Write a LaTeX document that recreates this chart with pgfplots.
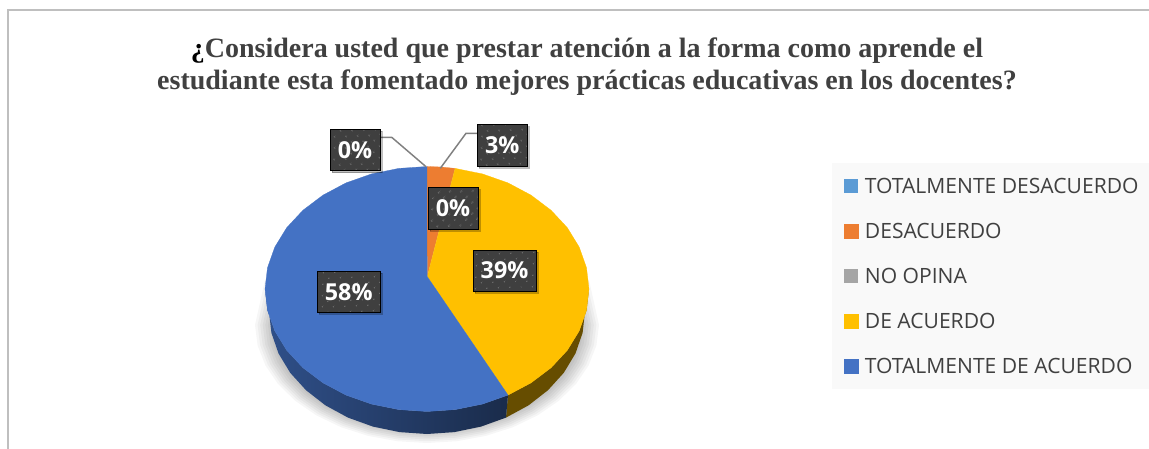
\documentclass[border=0pt]{standalone}
\usepackage{fontspec}
\setmainfont{Open Sans}
\newfontfamily\titlefont{Liberation Serif}
\usepackage{pgfplots}
\pgfplotsset{compat=1.18}
\usepackage{pgfplotstable}
\usetikzlibrary{patterns.meta,shadows}
\definecolor{tbl}{HTML}{5B9BD5}
\definecolor{ora}{HTML}{ED7D31}
\definecolor{gra}{HTML}{A5A5A5}
\definecolor{yel}{HTML}{FFC000}
\definecolor{blu}{HTML}{4472C4}
\definecolor{txt}{HTML}{404040}
\definecolor{box}{HTML}{3F3F3F}
\pgfplotstableread{
x y
265 280
255 325
257.6 345.5
265.4 365.4
278 384
295.2 400.8
316.4 415.4
341 427.2
368.2 435.9
397.1 441.2
427 443
456.9 441.2
485.8 435.9
513 427.2
537.6 415.4
558.8 400.8
576 384
588.6 365.4
596.4 345.5
599 325
589 280
}\shadowtab
\begin{document}
\begin{tikzpicture}
\begin{axis}[
  scale only axis, width=861.75pt, height=336.75pt,
  xmin=0, xmax=1149, ymin=0, ymax=449, y dir=reverse,
  axis lines=none, clip=true,
  title style={at={(axis cs:587,75)}, anchor=center, align=center, inner sep=0pt,
    font=\titlefont\bfseries\fontsize{21}{24}\selectfont, text=txt},
  title={\textcolor{black}{¿}Considera usted que prestar atención a la forma como aprende el\\estudiante esta fomentado mejores prácticas educativas en los docentes?},
  legend image code/.code={\fill[#1] (0pt,-3.75pt) rectangle (10.5pt,6.75pt);},
  legend style={at={(axis cs:844,177.5)}, anchor=north west, draw=none, fill=none,
    inner sep=0pt, outer sep=0pt, row sep=17.7pt, text=txt,
    font=\fontsize{15.8}{18}\selectfont, cells={anchor=west},
    nodes={inner sep=0pt, outer ysep=0pt, inner xsep=5pt, text height=12pt, text depth=4pt}},
]
% page background, frame, legend panel
\addplot[fill=white, draw=none, forget plot] coordinates {(0,0)(1149,0)(1149,449)(0,449)};
\addplot[color=black!25, line width=1pt, forget plot] coordinates {(8,449)(8,10)(1149,10)};
\addplot[fill=black!2.5, draw=none, forget plot] coordinates {(832,163)(1149,163)(1149,389)(832,389)};
% shadow
\pgfplotsinvokeforeach{1.00,0.985,0.97,0.955,0.94,0.925,0.91}{
  \addplot[fill=black, fill opacity=0.035, draw=none, forget plot] table[x expr={427+(\thisrow{x}-427)*#1}, y expr={325+(\thisrow{y}-325)*#1}] {\shadowtab};
}
% side walls
\addplot[fill=yel!40!black, draw=none, forget plot] coordinates {
 (589,289)(586.5,310.3)(579.2,330.9)(567.3,350.3)(551.1,367.7)(531.1,382.8)(508,395.1)
 (506,417.6)(528.6,405.3)(548,390.2)(563.8,372.8)(575.5,353.4)(582.6,332.8)(585,311.5)};
\addplot[left color=blu!70!black, middle color=blu!40!black, right color=blu!38!black, draw=none, forget plot] coordinates {
 (508,395.1)(482.4,404.1)(455.1,409.6)(427,411.5)(398.9,409.6)(371.6,404.1)(346,395.1)(322.9,382.8)(302.9,367.7)(286.7,350.3)(274.8,330.9)(267.5,310.3)(265,289)
 (269,311.5)(271.4,332.8)(278.5,353.4)(290.2,372.8)(306,390.2)(325.4,405.3)(348,417.6)(373,426.6)(399.6,432.1)(427,434)(454.4,432.1)(481,426.6)(506,417.6)};
% top face: one series per category
\addplot[fill=tbl, draw=none] coordinates {(427.3,276.7)(427,166.5)(427,166.5)};
\addlegendentry{TOTALMENTE DESACUERDO}
\addplot[fill=ora, draw=ora, line width=.2pt] coordinates {(427.3,276.7)(427,166.5)(441.1,167)(455.1,168.4)};
\addlegendentry{DESACUERDO}
\addplot[fill=gra, draw=none] coordinates {(427.3,276.7)(455.1,168.4)(455.1,168.4)};
\addlegendentry{NO OPINA}
\addplot[fill=yel, draw=yel, line width=.2pt] coordinates {(427.3,276.7)(455.1,168.4)(482.4,173.9)(508,182.9)(531.1,195.2)(551.1,210.3)(567.3,227.7)(579.2,247.1)(586.5,267.7)(589,289)(586.5,310.3)(579.2,330.9)(567.3,350.3)(551.1,367.7)(531.1,382.8)(508,395.1)};
\addlegendentry{DE ACUERDO}
\addplot[fill=blu, draw=blu, line width=.2pt] coordinates {(427.3,276.7)(508,395.1)(482.4,404.1)(455.1,409.6)(427,411.5)(398.9,409.6)(371.6,404.1)(346,395.1)(322.9,382.8)(302.9,367.7)(286.7,350.3)(274.8,330.9)(267.5,310.3)(265,289)(267.5,267.7)(274.8,247.1)(286.7,227.7)(302.9,210.3)(322.9,195.2)(346,182.9)(371.6,173.9)(398.9,168.4)(427,166.5)};
\addlegendentry{TOTALMENTE DE ACUERDO}
% leader lines
\addplot[color=black!50, line width=1.1pt, forget plot] coordinates {(380,137.3)(391.7,137.3)(426,166.7)};
\addplot[color=black!50, line width=1.1pt, forget plot] coordinates {(478,133.3)(466,133.3)(440.3,168.3)};
% data labels
\addplot[only marks, mark=none, forget plot, point meta=explicit symbolic,
  nodes near coords, nodes near coords align={center},
  every node near coord/.style={anchor=center, fill=box, text=white, inner sep=0pt,
    font=\bfseries\fontsize{17.5}{20}\selectfont, minimum width=37.5pt, minimum height=31pt,
    drop shadow={shadow xshift=1.5pt, shadow yshift=-1.5pt, opacity=.25, fill=black},
    postaction={pattern={Dots[distance=6.5pt,radius=.6pt,angle=45]}, pattern color=white!30!box}}
] coordinates {
 (355,150)[0\%]
 (502.3,145.3)[3\%]
 (453,208.3)[0\%]
};
\addplot[only marks, mark=none, forget plot, point meta=explicit symbolic,
  nodes near coords, nodes near coords align={center},
  every node near coord/.style={anchor=center, fill=box, text=white, inner sep=0pt,
    font=\bfseries\fontsize{17.5}{20}\selectfont, minimum width=47pt, minimum height=31pt,
    drop shadow={shadow xshift=1.5pt, shadow yshift=-1.5pt, opacity=.25, fill=black},
    postaction={pattern={Dots[distance=6.5pt,radius=.6pt,angle=45]}, pattern color=white!30!box}}
] coordinates {
 (504.5,270.5)[39\%]
 (348.7,291.8)[58\%]
};
\end{axis}
\end{tikzpicture}
\end{document}
